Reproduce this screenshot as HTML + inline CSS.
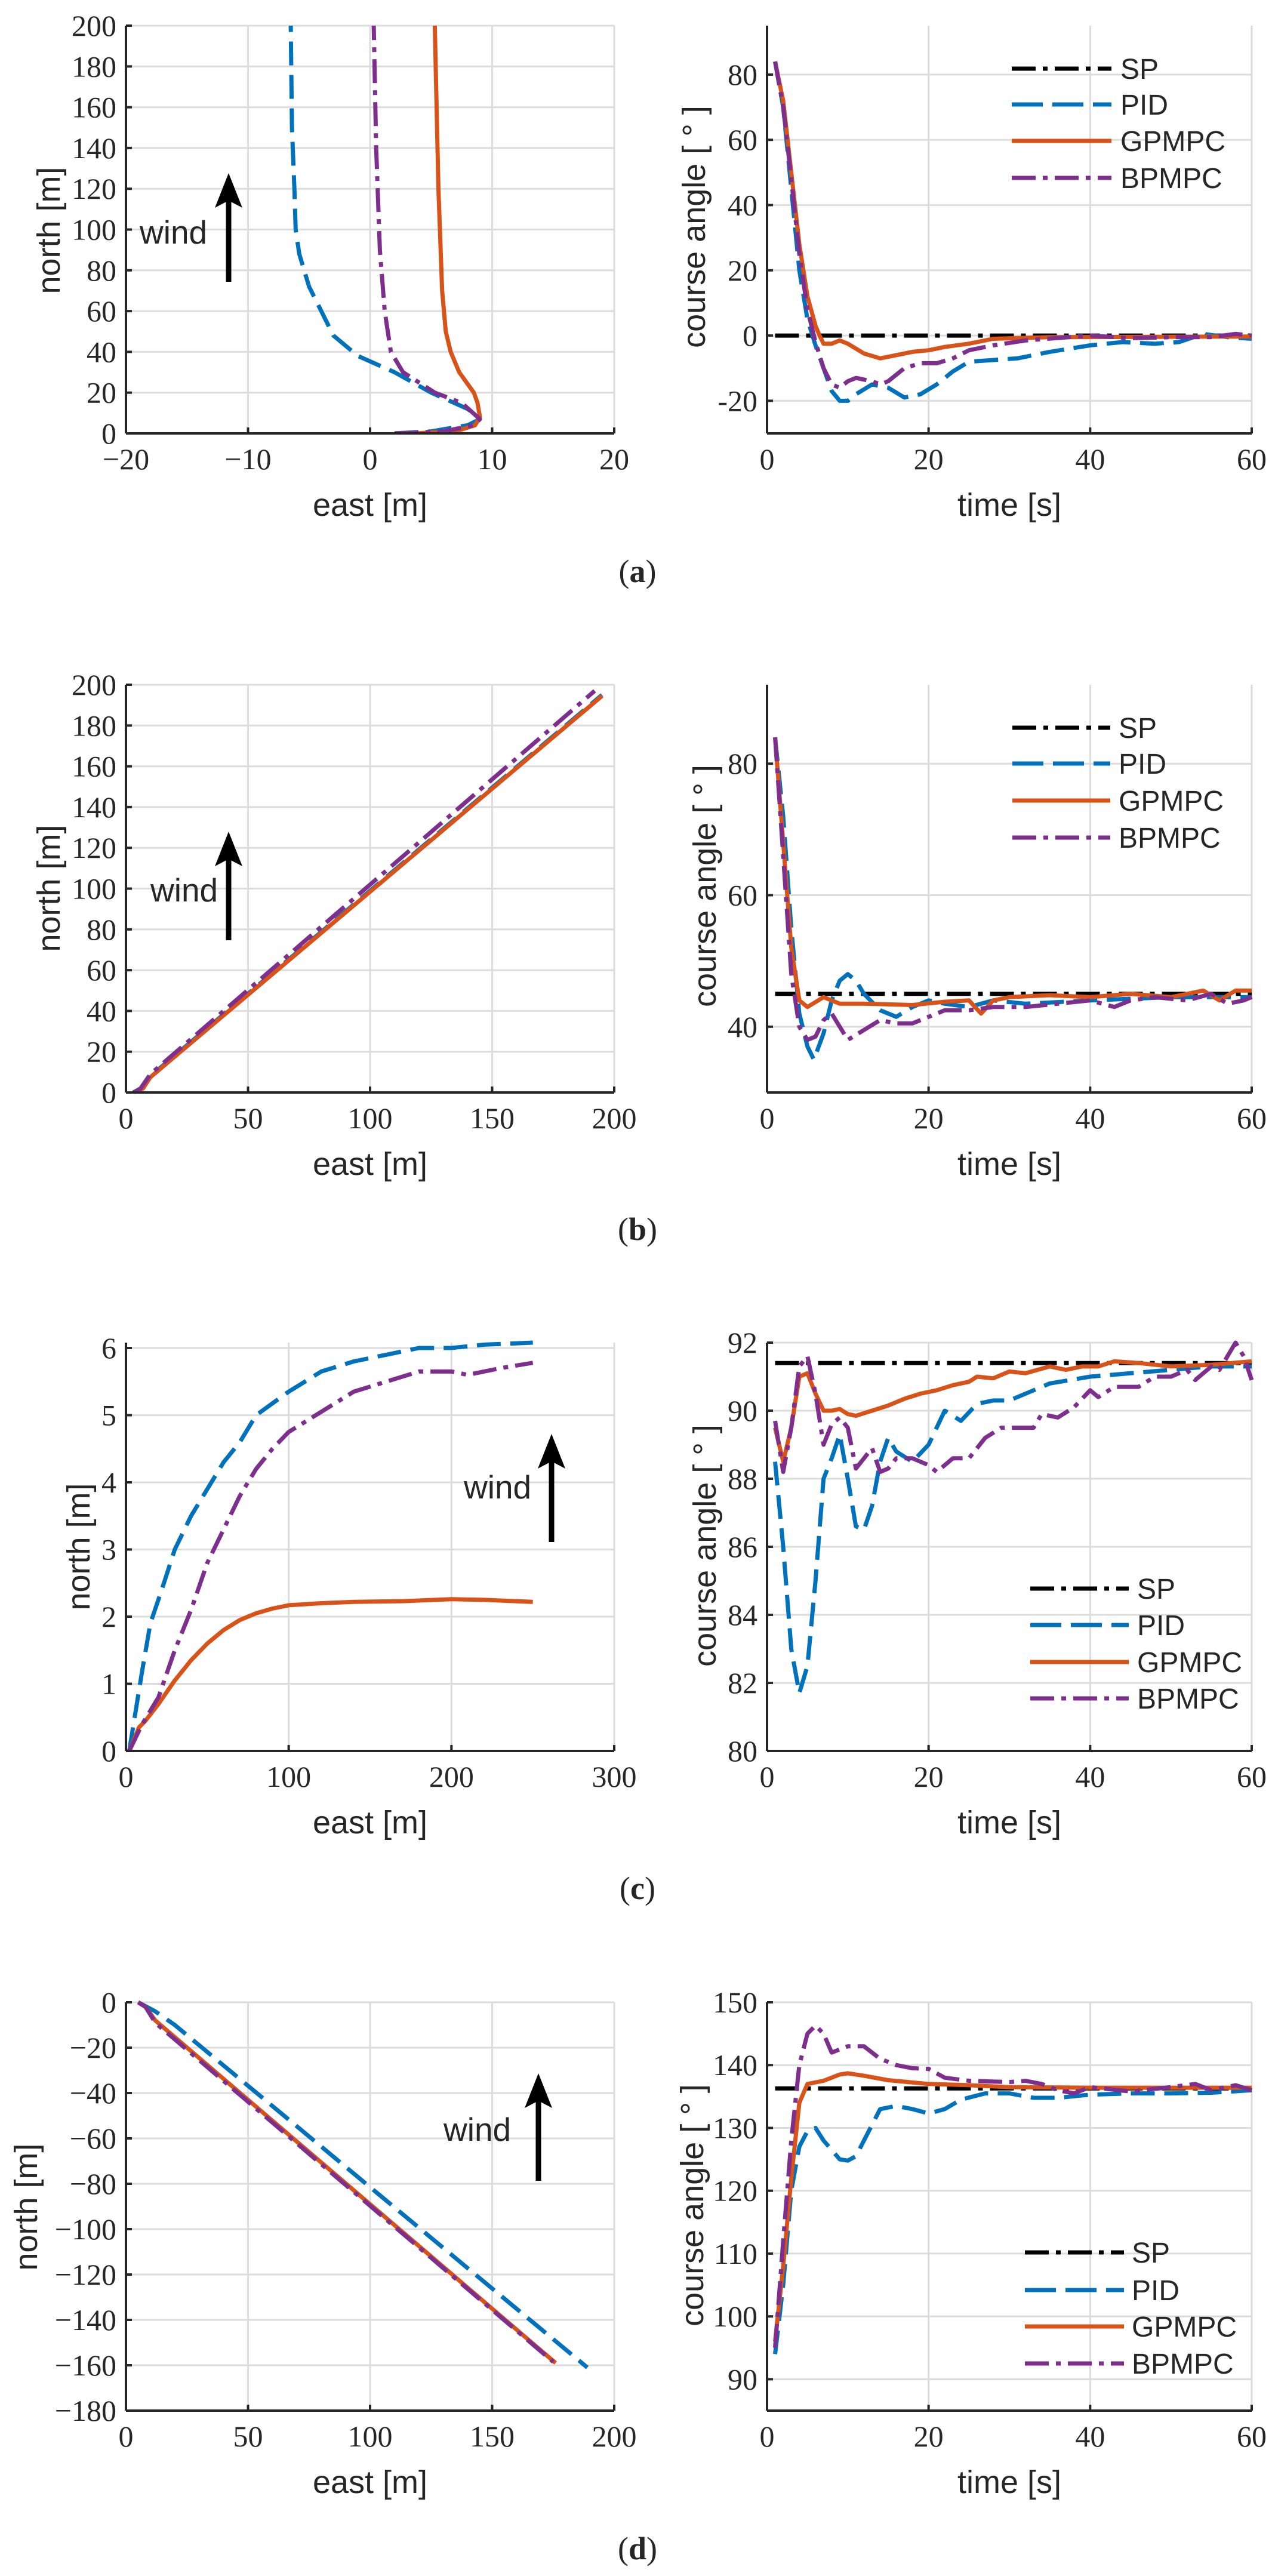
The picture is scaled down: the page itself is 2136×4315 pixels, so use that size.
<!DOCTYPE html>
<html><head><meta charset="utf-8"><style>
html,body{margin:0;padding:0;background:#fff}
svg text{fill:#262626}
.tk{font-family:"Liberation Serif",serif;font-size:50px}
.lb{font-family:"Liberation Sans",sans-serif;font-size:54px}
.lg{font-family:"Liberation Sans",sans-serif;font-size:48px}
.wd{font-family:"Liberation Sans",sans-serif;font-size:55px;fill:#000}
.pl{font-family:"Liberation Serif",serif;font-size:54px}
</style></head><body>
<svg id="root" xmlns="http://www.w3.org/2000/svg" width="2136" height="4310" viewBox="0 0 2136 4310">
<rect width="2136" height="4310" fill="#fff"/>

<svg id="a1" x="211" y="43" width="818" height="683" overflow="visible"><g class="p"></g>
<g class="tk" text-anchor="middle"><text x="0%" y="100%" dy="60">−20</text><text x="25%" y="100%" dy="60">−10</text><text x="50%" y="100%" dy="60">0</text><text x="75%" y="100%" dy="60">10</text><text x="100%" y="100%" dy="60">20</text></g>
<g class="tk" text-anchor="end"><text x="-16" y="100%" dy="17">0</text><text x="-16" y="90%" dy="17">20</text><text x="-16" y="80%" dy="17">40</text><text x="-16" y="70%" dy="17">60</text><text x="-16" y="60%" dy="17">80</text><text x="-16" y="50%" dy="17">100</text><text x="-16" y="40%" dy="17">120</text><text x="-16" y="30%" dy="17">140</text><text x="-16" y="20%" dy="17">160</text><text x="-16" y="10%" dy="17">180</text><text x="-16" y="0%" dy="17">200</text></g>
<text class="lb" x="50%" y="100%" dy="138" text-anchor="middle">east  [m]</text>
<text class="lb" text-anchor="middle" transform="translate(-111,343) rotate(-90)">north [m]</text>
</svg>
<svg id="a2" x="1285" y="43" width="812" height="683" overflow="visible"><g class="p"></g>
<g class="tk" text-anchor="middle"><text x="0%" y="100%" dy="60">0</text><text x="33.33%" y="100%" dy="60">20</text><text x="66.67%" y="100%" dy="60">40</text><text x="100%" y="100%" dy="60">60</text></g>
<g class="tk" text-anchor="end"><text x="-16" y="92%" dy="17">-20</text><text x="-16" y="76%" dy="17">0</text><text x="-16" y="60%" dy="17">20</text><text x="-16" y="44%" dy="17">40</text><text x="-16" y="28%" dy="17">60</text><text x="-16" y="12%" dy="17">80</text></g>
<text class="lb" x="50%" y="100%" dy="138" text-anchor="middle">time [s]</text>
<text class="lb" text-anchor="middle" transform="translate(-104,337) rotate(-90)">course angle [ ° ]</text>
</svg>

<svg id="b1" x="211" y="1147" width="818" height="683" overflow="visible"><g class="p"></g>
<g class="tk" text-anchor="middle"><text x="0%" y="100%" dy="60">0</text><text x="25%" y="100%" dy="60">50</text><text x="50%" y="100%" dy="60">100</text><text x="75%" y="100%" dy="60">150</text><text x="100%" y="100%" dy="60">200</text></g>
<g class="tk" text-anchor="end"><text x="-16" y="100%" dy="17">0</text><text x="-16" y="90%" dy="17">20</text><text x="-16" y="80%" dy="17">40</text><text x="-16" y="70%" dy="17">60</text><text x="-16" y="60%" dy="17">80</text><text x="-16" y="50%" dy="17">100</text><text x="-16" y="40%" dy="17">120</text><text x="-16" y="30%" dy="17">140</text><text x="-16" y="20%" dy="17">160</text><text x="-16" y="10%" dy="17">180</text><text x="-16" y="0%" dy="17">200</text></g>
<text class="lb" x="50%" y="100%" dy="138" text-anchor="middle">east  [m]</text>
<text class="lb" text-anchor="middle" transform="translate(-111,341) rotate(-90)">north [m]</text>
</svg>
<svg id="b2" x="1285" y="1147" width="812" height="683" overflow="visible"><g class="p"></g>
<g class="tk" text-anchor="middle"><text x="0%" y="100%" dy="60">0</text><text x="33.33%" y="100%" dy="60">20</text><text x="66.67%" y="100%" dy="60">40</text><text x="100%" y="100%" dy="60">60</text></g>
<g class="tk" text-anchor="end"><text x="-16" y="83.87%" dy="17">40</text><text x="-16" y="51.61%" dy="17">60</text><text x="-16" y="19.35%" dy="17">80</text></g>
<text class="lb" x="50%" y="100%" dy="138" text-anchor="middle">time [s]</text>
<text class="lb" text-anchor="middle" transform="translate(-86,337) rotate(-90)">course angle [ ° ]</text>
</svg>

<svg id="c1" x="211" y="2249" width="818" height="684" overflow="visible"><g class="p"></g>
<g class="tk" text-anchor="middle"><text x="0%" y="100%" dy="60">0</text><text x="33.33%" y="100%" dy="60">100</text><text x="66.67%" y="100%" dy="60">200</text><text x="100%" y="100%" dy="60">300</text></g>
<g class="tk" text-anchor="end"><text x="-16" y="100%" dy="17">0</text><text x="-16" y="83.55%" dy="17">1</text><text x="-16" y="67.11%" dy="17">2</text><text x="-16" y="50.66%" dy="17">3</text><text x="-16" y="34.21%" dy="17">4</text><text x="-16" y="17.76%" dy="17">5</text><text x="-16" y="1.32%" dy="17">6</text></g>
<text class="lb" x="50%" y="100%" dy="138" text-anchor="middle">east  [m]</text>
<text class="lb" text-anchor="middle" transform="translate(-61,342) rotate(-90)">north [m]</text>
</svg>
<svg id="c2" x="1285" y="2249" width="812" height="684" overflow="visible"><g class="p"></g>
<g class="tk" text-anchor="middle"><text x="0%" y="100%" dy="60">0</text><text x="33.33%" y="100%" dy="60">20</text><text x="66.67%" y="100%" dy="60">40</text><text x="100%" y="100%" dy="60">60</text></g>
<g class="tk" text-anchor="end"><text x="-16" y="100%" dy="17">80</text><text x="-16" y="83.33%" dy="17">82</text><text x="-16" y="66.67%" dy="17">84</text><text x="-16" y="50%" dy="17">86</text><text x="-16" y="33.33%" dy="17">88</text><text x="-16" y="16.67%" dy="17">90</text><text x="-16" y="0%" dy="17">92</text></g>
<text class="lb" x="50%" y="100%" dy="138" text-anchor="middle">time [s]</text>
<text class="lb" text-anchor="middle" transform="translate(-86,340) rotate(-90)">course angle [ ° ]</text>
</svg>

<svg id="d1" x="211" y="3354" width="818" height="684" overflow="visible"><g class="p"></g>
<g class="tk" text-anchor="middle"><text x="0%" y="100%" dy="60">0</text><text x="25%" y="100%" dy="60">50</text><text x="50%" y="100%" dy="60">100</text><text x="75%" y="100%" dy="60">150</text><text x="100%" y="100%" dy="60">200</text></g>
<g class="tk" text-anchor="end"><text x="-16" y="0%" dy="17">0</text><text x="-16" y="11.11%" dy="17">−20</text><text x="-16" y="22.22%" dy="17">−40</text><text x="-16" y="33.33%" dy="17">−60</text><text x="-16" y="44.44%" dy="17">−80</text><text x="-16" y="55.56%" dy="17">−100</text><text x="-16" y="66.67%" dy="17">−120</text><text x="-16" y="77.78%" dy="17">−140</text><text x="-16" y="88.89%" dy="17">−160</text><text x="-16" y="100%" dy="17">−180</text></g>
<text class="lb" x="50%" y="100%" dy="138" text-anchor="middle">east  [m]</text>
<text class="lb" text-anchor="middle" transform="translate(-149,343) rotate(-90)">north [m]</text>
</svg>
<svg id="d2" x="1285" y="3354" width="812" height="684" overflow="visible"><g class="p"></g>
<g class="tk" text-anchor="middle"><text x="0%" y="100%" dy="60">0</text><text x="33.33%" y="100%" dy="60">20</text><text x="66.67%" y="100%" dy="60">40</text><text x="100%" y="100%" dy="60">60</text></g>
<g class="tk" text-anchor="end"><text x="-16" y="0%" dy="17">150</text><text x="-16" y="15.38%" dy="17">140</text><text x="-16" y="30.77%" dy="17">130</text><text x="-16" y="46.15%" dy="17">120</text><text x="-16" y="61.54%" dy="17">110</text><text x="-16" y="76.92%" dy="17">100</text><text x="-16" y="92.31%" dy="17">90</text></g>
<text class="lb" x="50%" y="100%" dy="138" text-anchor="middle">time [s]</text>
<text class="lb" text-anchor="middle" transform="translate(-107,340) rotate(-90)">course angle [ ° ]</text>
</svg>

<g id="legs" stroke-width="7" fill="none">
<line x1="1695" y1="115" x2="1862" y2="115" stroke="#000" stroke-dasharray="40 12 8 12"/>
<line x1="1695" y1="175" x2="1862" y2="175" stroke="#0072BD" stroke-dasharray="52 16"/>
<line x1="1695" y1="236" x2="1862" y2="236" stroke="#D95319"/>
<line x1="1695" y1="298" x2="1862" y2="298" stroke="#7E2F8E" stroke-dasharray="40 12 8 12"/>
<line x1="1696" y1="1219" x2="1860" y2="1219" stroke="#000" stroke-dasharray="40 12 8 12"/>
<line x1="1696" y1="1279" x2="1860" y2="1279" stroke="#0072BD" stroke-dasharray="52 16"/>
<line x1="1696" y1="1341" x2="1860" y2="1341" stroke="#D95319"/>
<line x1="1696" y1="1403" x2="1860" y2="1403" stroke="#7E2F8E" stroke-dasharray="40 12 8 12"/>
<line x1="1726" y1="2661" x2="1891" y2="2661" stroke="#000" stroke-dasharray="40 12 8 12"/>
<line x1="1726" y1="2722" x2="1891" y2="2722" stroke="#0072BD" stroke-dasharray="52 16"/>
<line x1="1726" y1="2784" x2="1891" y2="2784" stroke="#D95319"/>
<line x1="1726" y1="2845" x2="1891" y2="2845" stroke="#7E2F8E" stroke-dasharray="40 12 8 12"/>
<line x1="1717" y1="3773" x2="1883" y2="3773" stroke="#000" stroke-dasharray="40 12 8 12"/>
<line x1="1717" y1="3836" x2="1883" y2="3836" stroke="#0072BD" stroke-dasharray="52 16"/>
<line x1="1717" y1="3897" x2="1883" y2="3897" stroke="#D95319"/>
<line x1="1717" y1="3959" x2="1883" y2="3959" stroke="#7E2F8E" stroke-dasharray="40 12 8 12"/>
</g>
<g class="lg">
<text x="1877" y="132">SP</text><text x="1877" y="192">PID</text><text x="1877" y="253">GPMPC</text><text x="1877" y="315">BPMPC</text>
<text x="1874" y="1236">SP</text><text x="1874" y="1296">PID</text><text x="1874" y="1358">GPMPC</text><text x="1874" y="1420">BPMPC</text>
<text x="1905" y="2678">SP</text><text x="1905" y="2739">PID</text><text x="1905" y="2801">GPMPC</text><text x="1905" y="2862">BPMPC</text>
<text x="1896" y="3790">SP</text><text x="1896" y="3853">PID</text><text x="1896" y="3914">GPMPC</text><text x="1896" y="3976">BPMPC</text>
</g>

<g class="wd">
<text x="234" y="408">wind</text>
<text x="252" y="1510">wind</text>
<text x="777" y="2510">wind</text>
<text x="743" y="3586">wind</text>
</g>
<g fill="#000" stroke="#000">
<line x1="383" y1="472" x2="383" y2="330" stroke-width="9"/><polygon points="383,290 360,348 383,336 406,348" stroke="none"/>
<line x1="383" y1="1575" x2="383" y2="1433" stroke-width="9"/><polygon points="383,1393 360,1451 383,1439 406,1451" stroke="none"/>
<line x1="924" y1="2583" x2="924" y2="2442" stroke-width="9"/><polygon points="924,2402 901,2460 924,2448 947,2460" stroke="none"/>
<line x1="902" y1="3653" x2="902" y2="3513" stroke-width="9"/><polygon points="902,3473 879,3531 902,3519 925,3531" stroke="none"/>
</g>

<g class="pl" text-anchor="middle">
<text x="1068" y="975">(<tspan font-weight="bold">a</tspan>)</text>
<text x="1068" y="2077">(<tspan font-weight="bold">b</tspan>)</text>
<text x="1068" y="3181">(<tspan font-weight="bold">c</tspan>)</text>
<text x="1068" y="4287">(<tspan font-weight="bold">d</tspan>)</text>
</g>
</svg>
<script>
var NS="http://www.w3.org/2000/svg";
var C={SP:"#000",PID:"#0072BD",GP:"#D95319",BP:"#7E2F8E"};
var D={SP:"40 12 8 12",PID:"40 16",GP:null,BP:"40 12 8 12"};
function rng(a,b,s){var r=[];for(var v=a;v<=b+1e-9;v+=s)r.push(v);return r;}
function el(g,t,at){var e=document.createElementNS(NS,t);for(var k in at)e.setAttribute(k,at[k]);g.appendChild(e);return e;}
function plot(id,xr,yr,xt,yt,ser){
 var s=document.getElementById(id),g=s.querySelector(".p");
 var W=+s.getAttribute("width"),H=+s.getAttribute("height");
 var X=function(v){return (v-xr[0])/(xr[1]-xr[0])*W},Y=function(v){return H-(v-yr[0])/(yr[1]-yr[0])*H};
 xt.forEach(function(v){el(g,"line",{x1:X(v),x2:X(v),y1:0,y2:H,stroke:"#dcdcdc","stroke-width":3});});
 yt.forEach(function(v){el(g,"line",{x1:0,x2:W,y1:Y(v),y2:Y(v),stroke:"#dcdcdc","stroke-width":3});});
 var cp=el(g,"clipPath",{id:"cp"+id});el(cp,"rect",{x:0,y:-6,width:W+6,height:H+6});
 ser.forEach(function(se){
  var d=se[1].map(function(p,i){return (i?"L":"M")+X(p[0]).toFixed(1)+","+Y(p[1]).toFixed(1)}).join("");
  var a={d:d,fill:"none",stroke:C[se[0]],"stroke-width":7,"stroke-linejoin":"round","clip-path":"url(#cp"+id+")"};
  if(D[se[0]])a["stroke-dasharray"]=D[se[0]];
  el(g,"path",a);
 });
 el(g,"line",{x1:0,x2:W,y1:H,y2:H,stroke:"#262626","stroke-width":4});
 el(g,"line",{x1:0,x2:0,y1:0,y2:H,stroke:"#262626","stroke-width":4});
 xt.forEach(function(v){el(g,"line",{x1:X(v),x2:X(v),y1:H,y2:H-10,stroke:"#262626","stroke-width":4});});
 yt.forEach(function(v){el(g,"line",{x1:0,x2:10,y1:Y(v),y2:Y(v),stroke:"#262626","stroke-width":4});});
}
var tt=rng(0,60,20);
plot("a1",[-20,20],[0,200],rng(-20,20,10),rng(0,200,20),[
 ["PID",[[2,0],[5,1],[8,4],[9,7],[8,12],[5,20],[2,30],[-1,38],[-3,48],[-4,60],[-5,72],[-5.8,88],[-6.1,100],[-6.2,120],[-6.4,150],[-6.5,200]]],
 ["GP",[[3.5,0],[7,1],[8.6,4],[9,8],[8.8,15],[8.5,20],[7.3,30],[6.6,40],[6.2,50],[5.9,70],[5.6,120],[5.3,200]]],
 ["BP",[[2,0],[6,1],[8.5,4],[9,7],[7.5,15],[5.3,20],[2.7,30],[1.7,40],[1.2,60],[0.8,90],[0.5,140],[0.3,200]]]]);
plot("a2",[0,60],[-30,95],tt,rng(-20,80,20),[
 ["SP",[[1,0],[60,0]]],
 ["PID",[[1,84],[2,70],[3,45],[4,20],[5,5],[6,-3],[7,-10],[8,-17],[9,-20],[10,-20],[11,-18],[13,-15],[15,-16],[17,-19],[19,-18],[21,-15],[23,-11],[25,-8],[28,-7.5],[31,-7],[35,-5],[40,-3],[44,-2],[48,-2.5],[51,-2],[54,0.5],[57,-0.5],[60,-1]]],
 ["GP",[[1,84],[2,72],[3,50],[4,28],[5,12],[6,3],[6.5,0],[7,-2.5],[8,-2.5],[9,-1.5],[10,-2.5],[12,-5.5],[14,-7],[16,-6],[18,-5],[20,-4.5],[22,-3.5],[25,-2.5],[28,-1],[35,-0.5],[60,-0.3]]],
 ["BP",[[1,84],[2,70],[3,48],[4,25],[5,8],[6,-2],[7,-10],[8,-15],[9,-16],[10,-14],[11,-13],[13,-14],[14,-15],[15,-14],[17,-10],[19,-8.5],[21,-8.5],[23,-7],[25,-4.5],[28,-3],[32,-1.5],[40,0],[45,-0.8],[50,-0.5],[55,-0.5],[58,0.5],[60,0]]]]);
plot("b1",[0,200],[0,200],rng(0,200,50),rng(0,200,20),[
 ["PID",[[3,0],[7,2],[10,8],[195,195]]],
 ["GP",[[3,0],[7,2],[10,7.5],[195,194.5]]],
 ["BP",[[3,0],[6,2],[10,9],[192,197]]]]);
plot("b2",[0,60],[30,92],tt,[40,60,80],[
 ["SP",[[1,45],[60,45]]],
 ["PID",[[1,84],[2,72],[3,55],[4,42],[5,37],[5.8,35],[7,39],[8,44],[9,47],[10,48],[11,47],[12,45],[14,42.5],[16,41.5],[18,43],[20,44],[22,43.5],[25,43],[28,44],[32,43.5],[40,44],[50,44.5],[60,44.5]]],
 ["GP",[[1,84],[2,68],[3,52],[4,44],[5,43],[7,44.5],[9,43.5],[12,43.5],[18,43.3],[22,43.8],[25,44],[26.5,42],[28,44],[30,44.5],[35,44.8],[40,44.5],[45,45],[50,44.5],[54,45.5],[56,44],[58,45.5],[60,45.5]]],
 ["BP",[[1,84],[2,66],[3,48],[4,40],[5,38],[6,38.5],[7,41],[8,42],[9,40],[10,38],[12,39.5],[14,41],[16,40.5],[18,40.5],[20,41.5],[22,42.5],[25,42.5],[28,43],[32,43],[36,43.5],[40,44],[43,43],[45,44],[48,44.5],[52,44],[55,45],[57,43.5],[59,44],[60,44.5]]]]);
plot("c1",[0,300],[0,6.08],rng(0,300,100),rng(0,6,1),[
 ["PID",[[2,0],[6,0.6],[10,1.2],[15,1.9],[22,2.4],[30,3.0],[40,3.5],[50,3.9],[60,4.3],[70,4.6],[80,5.0],[100,5.35],[120,5.65],[140,5.8],[160,5.9],[180,6.0],[200,6.0],[220,6.05],[250,6.08]]],
 ["GP",[[2,0],[8,0.35],[12,0.45],[20,0.7],[30,1.05],[40,1.35],[50,1.6],[60,1.8],[70,1.95],[80,2.05],[90,2.12],[100,2.17],[120,2.2],[140,2.22],[170,2.23],[200,2.26],[220,2.25],[250,2.22]]],
 ["BP",[[2,0],[10,0.4],[20,0.8],[30,1.5],[40,2.1],[50,2.8],[60,3.3],[70,3.8],[80,4.2],[90,4.5],[100,4.75],[120,5.05],[140,5.35],[160,5.5],[180,5.65],[200,5.65],[210,5.6],[230,5.7],[250,5.78]]]]);
plot("c2",[0,60],[80,92],tt,rng(80,92,2),[
 ["SP",[[1,91.4],[60,91.4]]],
 ["PID",[[1,88.5],[2,86],[3,83],[4,81.7],[5,82.5],[6,85],[7,88],[8,88.6],[9,89.3],[10,88],[11,86.6],[12,86.5],[13,87.2],[14,88.5],[15,89.2],[16,88.8],[18,88.5],[20,89],[22,90],[24,89.7],[26,90.2],[28,90.3],[30,90.3],[35,90.8],[40,91],[45,91.1],[50,91.2],[55,91.3],[60,91.3]]],
 ["GP",[[1,89.5],[2,88.5],[3,89.5],[4,91],[5,91.1],[6,90.5],[7,90],[8,90],[9,90.05],[10,89.9],[11,89.85],[13,90],[15,90.15],[17,90.35],[19,90.5],[21,90.6],[23,90.75],[25,90.85],[26,91],[28,90.95],[30,91.15],[32,91.1],[35,91.3],[37,91.2],[39,91.3],[41,91.3],[43,91.45],[46,91.4],[50,91.3],[55,91.35],[60,91.45]]],
 ["BP",[[1,89.7],[2,88.2],[3,89.5],[4,91.3],[5,91.6],[6,90.5],[7,89],[8,89.6],[9,89.8],[10,89.5],[11,88.3],[12,88.6],[13,88.9],[14,88.2],[15,88.3],[16,88.6],[18,88.6],[20,88.4],[21,88.2],[23,88.6],[25,88.6],[27,89.2],[29,89.5],[31,89.5],[33,89.5],[34,89.9],[36,89.8],[38,90.1],[40,90.6],[41,90.4],[43,90.7],[46,90.7],[48,91],[50,91],[52,91.2],[53,90.9],[55,91.3],[56,91.2],[58,92],[59,91.6],[60,90.9]]]]);
plot("d1",[0,200],[-180,0],rng(0,200,50),rng(-180,0,20),[
 ["PID",[[5,0],[12,-4],[20,-10],[189,-161]]],
 ["GP",[[5,0],[8,-2],[12,-8],[176,-159]]],
 ["BP",[[5,0],[8,-2],[12,-9],[175,-158.5]]]]);
plot("d2",[0,60],[85,150],tt,rng(90,150,10),[
 ["SP",[[1,136.3],[60,136.3]]],
 ["PID",[[1,94],[2,105],[3,120],[4,127],[5,129.5],[6,130],[7,128],[8,126.5],[9,125],[10,124.8],[11,125.5],[12,128],[14,133],[16,133.5],[18,133],[20,132.3],[22,133],[24,134.5],[27,135.5],[30,135.5],[33,134.8],[36,134.8],[40,135.3],[45,135.5],[50,135.5],[55,135.6],[60,136]]],
 ["GP",[[1,96],[2,108],[3,122],[4,134],[5,137],[7,137.5],[9,138.5],[10,138.7],[12,138.3],[15,137.6],[20,137],[25,136.8],[30,136.5],[40,136.4],[60,136.4]]],
 ["BP",[[1,95],[2,112],[3,128],[4,140],[5,145],[6,146.3],[7,145],[8,142],[9,142.5],[10,143],[12,143],[14,141],[16,140],[18,139.5],[20,139.4],[22,138],[25,137.5],[30,137.3],[32,137.5],[34,137],[36,136],[38,135.5],[40,136.5],[45,135.8],[50,136.5],[53,137],[55,136],[58,136.8],[60,136]]]]);
</script>
</body></html>
